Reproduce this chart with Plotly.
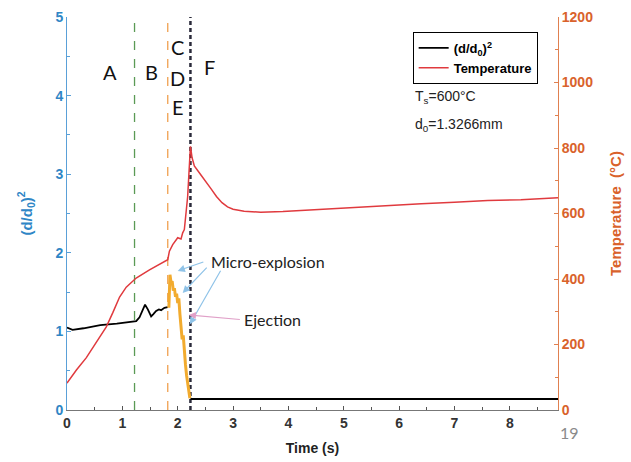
import plotly.graph_objects as go

# ---- data ----
t_pre = [0.0, 0.05, 0.1, 0.3, 0.6, 0.9, 1.2, 1.25, 1.31, 1.37, 1.41, 1.46, 1.52, 1.56, 1.61, 1.66, 1.70, 1.76, 1.82]
d_pre = [1.05, 1.03, 1.02, 1.04, 1.08, 1.10, 1.12, 1.13, 1.18, 1.29, 1.34, 1.28, 1.19, 1.22, 1.26, 1.28, 1.27, 1.30, 1.31]

t_post = [2.23, 8.87]
d_post = [0.14, 0.14]

t_expl = [1.84, 1.86, 1.88, 1.90, 1.92, 1.94, 1.96, 1.98, 2.00, 2.02, 2.04, 2.06, 2.08, 2.10, 2.12, 2.14, 2.16, 2.18, 2.20, 2.22]
d_expl = [1.30, 1.72, 1.62, 1.64, 1.52, 1.55, 1.44, 1.48, 1.36, 1.42, 1.22, 1.05, 0.90, 0.95, 0.70, 0.58, 0.44, 0.33, 0.21, 0.15]

t_T = [0.0, 0.17, 0.35, 0.53, 0.71, 0.83, 0.95, 1.07, 1.25, 1.49, 1.79, 1.82, 1.85, 1.91, 2.0, 2.06, 2.09, 2.12,
       2.18, 2.23, 2.26, 2.30, 2.40, 2.50, 2.60, 2.70, 2.80, 2.90, 3.0, 3.2, 3.5, 3.9, 4.5, 5.1, 6.0, 6.4, 7.0,
       7.6, 8.2, 8.87]
temp = [82, 122, 160, 207, 254, 298, 345, 375, 403, 428, 454, 459, 485, 505, 526, 522, 541, 551,
        652, 805, 770, 745, 722, 700, 676, 652, 633, 620, 613, 607, 604, 606, 612, 617, 625, 630, 634,
        640, 642, 648]

phase_lines = [1.22, 1.82, 2.23]
phase_letters = ["A", "B", "C", "D", "E", "F"]
letter_x = [0.78, 1.53, 2.0, 2.0, 2.0, 2.58]
letter_y = [4.3, 4.3, 4.62, 4.23, 3.86, 4.37]

blue = "#2f86c6"
orange = "#d9622b"

fig = go.Figure()

# phase separation lines
fig.add_trace(go.Scatter(x=[phase_lines[0]] * 2, y=[0, 5], mode="lines",
                         line=dict(color="#5b9a55", width=1.3, dash="dash"), showlegend=False, hoverinfo="skip"))
fig.add_trace(go.Scatter(x=[phase_lines[1]] * 2, y=[0, 5], mode="lines",
                         line=dict(color="#f0a050", width=1.3, dash="dash"), showlegend=False, hoverinfo="skip"))
fig.add_trace(go.Scatter(x=[phase_lines[2]] * 2, y=[0, 5], mode="lines",
                         line=dict(color="#2a2a3a", width=2.5, dash="4px,3px"), showlegend=False, hoverinfo="skip"))

# diameter
fig.add_trace(go.Scatter(x=t_pre + [None] + t_post, y=d_pre + [None] + d_post, mode="lines",
                         line=dict(color="black", width=1.8), name="(d/d<sub>0</sub>)<sup>2</sup>"))
fig.add_trace(go.Scatter(x=t_expl, y=d_expl, mode="lines",
                         line=dict(color="#f2ab2e", width=3), showlegend=False))

# temperature
fig.add_trace(go.Scatter(x=t_T, y=temp, mode="lines", yaxis="y2",
                         line=dict(color="#e03a3e", width=1.5), name="Temperature"))

ann = []
for s, x, y in zip(phase_letters, letter_x, letter_y):
    ann.append(dict(x=x, y=y, xref="x", yref="y", text=s, showarrow=False,
                    font=dict(family="Lato", size=20, color="#111")))

# arrows (head x,y ; tail ax,ay)
arrows = [
    (2.00, 1.77, 2.49, 1.89, "#8fc3e8"),
    (2.09, 1.49, 2.55, 1.83, "#8fc3e8"),
    (2.22, 1.09, 2.79, 1.79, "#8fc3e8"),
    (2.20, 1.21, 3.15, 1.15, "#e0a0c8"),
]
for hx, hy, tx, ty, c in arrows:
    ann.append(dict(x=hx, y=hy, ax=tx, ay=ty, xref="x", yref="y", axref="x", ayref="y",
                    text="", showarrow=True, arrowhead=2, arrowsize=1.2, arrowwidth=1.2, arrowcolor=c))

ann.append(dict(x=2.56, y=1.89, xref="x", yref="y", text="Micro-explosion", showarrow=False,
                xanchor="left", font=dict(family="Lato", size=16, color="#222")))
ann.append(dict(x=3.16, y=1.15, xref="x", yref="y", text="Ejection", showarrow=False,
                xanchor="left", font=dict(family="Lato", size=16, color="#222")))
ann.append(dict(x=0.704, y=0.796, xref="paper", yref="paper", text="T<sub>s</sub>=600°C", showarrow=False,
                xanchor="left", yanchor="middle", font=dict(family="Liberation Sans", size=14, color="#222")))
ann.append(dict(x=0.704, y=0.725, xref="paper", yref="paper", text="d<sub>0</sub>=1.3266mm", showarrow=False,
                xanchor="left", yanchor="middle", font=dict(family="Liberation Sans", size=14, color="#222")))
ann.append(dict(x=1.0, y=-0.056, xref="paper", yref="paper", text="19", showarrow=False,
                xanchor="left", yanchor="middle", font=dict(family="Lato", size=16, color="#8a8a8a")))

fig.update_layout(
    width=631, height=462, autosize=False,
    margin=dict(l=67, r=73, t=17, b=52, autoexpand=False),
    paper_bgcolor="white", plot_bgcolor="white",
    font=dict(family="Liberation Sans"),
    xaxis=dict(range=[0, 8.87], showline=True, linecolor="#777", linewidth=1, ticks="inside",
               tickcolor="#555", ticklen=4, dtick=1, showgrid=False, zeroline=False,
               minor=dict(dtick=0.5, ticks="inside", ticklen=3, tickcolor="#555"),
               tickfont=dict(size=14, color="#333", weight="bold"),
               title=dict(text="Time (s)", font=dict(size=14, color="#222", weight="bold"), standoff=13)),
    yaxis=dict(range=[0, 5], showline=True, linecolor="#5aa0d8", linewidth=1, ticks="inside",
               tickcolor="#5aa0d8", ticklen=4, dtick=1, showgrid=False, zeroline=False,
               minor=dict(dtick=0.5, ticks="inside", ticklen=3, tickcolor="#5aa0d8"),
               tickfont=dict(size=14, color=blue, weight="bold"),
               title=dict(text="(d/d<sub>0</sub>)<sup>2</sup>", font=dict(size=15, color=blue, weight="bold"),
                          standoff=19)),
    yaxis2=dict(range=[0, 1200], overlaying="y", side="right", showline=True, linecolor="#e08050",
                linewidth=1, ticks="inside", tickcolor="#e08050", ticklen=4, dtick=200, showgrid=False,
                zeroline=False, minor=dict(dtick=100, ticks="inside", ticklen=3, tickcolor="#e08050"),
                tickfont=dict(size=14, color=orange, weight="bold"),
                title=dict(text="Temperature  (°C)", font=dict(size=15, color=orange, weight="bold"),
                           standoff=18)),
    legend=dict(x=0.704, y=0.962, xanchor="left", yanchor="top", bordercolor="black", borderwidth=1,
                bgcolor="white", font=dict(size=13, color="black", weight="bold"),
                tracegroupgap=0, itemwidth=30),
    annotations=ann,
    showlegend=True,
)

fig.write_html("out.html")
